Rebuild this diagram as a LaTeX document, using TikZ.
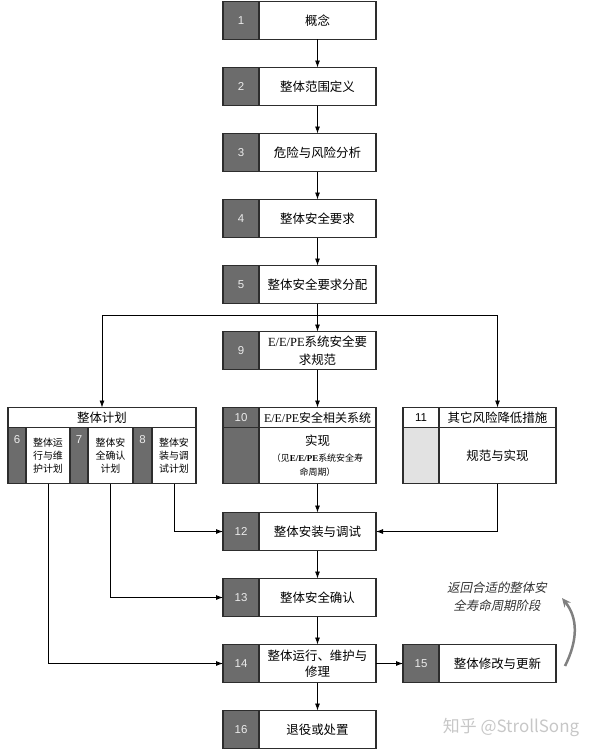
\documentclass[tikz,border=0pt]{standalone}
\usepackage{fontspec}
\setmainfont{Liberation Serif}
\newfontfamily\cjk{Noto Sans CJK SC}
\newfontfamily\cjkslant[FakeSlant=0.2]{Noto Sans CJK SC}
\newfontfamily\numfont{Liberation Sans}
\usetikzlibrary{positioning, arrows.meta}
\definecolor{numgray}{RGB}{108,108,108}
\definecolor{celllight}{RGB}{226,226,226}
\definecolor{boxline}{RGB}{45,45,45}

\begin{document}
\begin{tikzpicture}[
    x=1bp, y=-1bp,
    font=\cjk\fontsize{12.5}{16}\selectfont,
    every node/.style={align=center, outer sep=0pt},
    num/.style={draw=boxline, line width=1.2bp, fill=numgray, text=white!92!black,
                minimum width=36bp, minimum height=38bp, inner sep=0pt,
                font=\numfont\fontsize{11.5}{13}\selectfont},
    stage/.style={draw=boxline, line width=1.2bp, fill=white,
                  minimum width=117bp, minimum height=38bp, inner sep=1bp},
    plancell/.style={draw=boxline, line width=1.2bp, fill=white, minimum height=56bp,
                     inner sep=0pt, font=\cjk\fontsize{10}{13}\selectfont},
    plannum/.style={num, minimum width=18bp, minimum height=0pt,
                    text height=16bp, text depth=40bp},
    link/.style={draw, line width=0.8bp, -{Latex[length=7bp, width=5bp]}},
  ]
  \useasboundingbox (0,0) rectangle (600,754);

  % main column
  \node[num] (n1) at (241,20.5) {1};
  \node[stage, right=0pt of n1] (s1) {概念};
  \node[num, below=28bp of n1] (n2) {2};
  \node[stage, right=0pt of n2] (s2) {整体范围定义};
  \node[num, below=28bp of n2] (n3) {3};
  \node[stage, right=0pt of n3] (s3) {危险与风险分析};
  \node[num, below=28bp of n3] (n4) {4};
  \node[stage, right=0pt of n4] (s4) {整体安全要求};
  \node[num, below=28bp of n4] (n5) {5};
  \node[stage, right=0pt of n5] (s5) {整体安全要求分配};
  \node[num, below=28bp of n5] (n9) {9};
  \node[stage, right=0pt of n9] (s9) {{\rmfamily E/E/PE}系统安全要\\[2bp]求规范};

  % realisation row
  \node[num, minimum height=20bp, below=38bp of n9] (n10) {10};
  \node[stage, minimum height=20bp, right=0pt of n10] (s10)
    {{\fontsize{12}{14}\selectfont{\rmfamily E/E/PE}安全相关系统}};
  \node[num, minimum height=56bp, below=0pt of n10] (n10b) {};
  \node[stage, minimum height=56bp, right=0pt of n10b] (s10b)
    {实现\\{\fontsize{9}{11}\selectfont （见{\rmfamily\bfseries E/E/PE}系统安全寿}\\[-2bp]
     {\fontsize{9}{11}\selectfont 命周期）}};

  \node[num, fill=white, text=black, minimum height=20bp, right=27bp of s10] (n11) {11};
  \node[stage, minimum height=20bp, right=0pt of n11] (s11) {其它风险降低措施};
  \node[num, fill=celllight, minimum height=56bp, below=0pt of n11] (n11b) {};
  \node[stage, minimum height=56bp, right=0pt of n11b] (s11b) {规范与实现};

  % planning block
  \node[stage, minimum width=188bp, minimum height=20bp, left=27bp of n10] (plan) {整体计划};
  \node[plannum, anchor=north west] (c6n) at (plan.south west) {6};
  \node[plancell, minimum width=44bp, right=0pt of c6n] (c6) {整体运\\行与维\\护计划};
  \node[plannum, right=0pt of c6] (c7n) {7};
  \node[plancell, minimum width=45bp, right=0pt of c7n] (c7) {整体安\\全确认\\计划};
  \node[plannum, minimum width=19bp, right=0pt of c7] (c8n) {8};
  \node[plancell, minimum width=44bp, right=0pt of c8n] (c8) {整体安\\装与调\\试计划};

  % lower column
  \node[num, below=29bp of n10b] (n12) {12};
  \node[stage, right=0pt of n12] (s12) {整体安装与调试};
  \node[num, below=28bp of n12] (n13) {13};
  \node[stage, right=0pt of n13] (s13) {整体安全确认};
  \node[num, below=28bp of n13] (n14) {14};
  \node[stage, right=0pt of n14] (s14) {整体运行、维护与\\修理};
  \node[num, right=27bp of s14] (n15) {15};
  \node[stage, right=0pt of n15] (s15) {整体修改与更新};
  \node[num, below=28bp of n14] (n16) {16};
  \node[stage, right=0pt of n16] (s16) {退役或处置};

  % connectors
  \foreach \a/\b in {s1/s2, s2/s3, s3/s4, s4/s5, s5/s9, s9/s10,
                     s10b/s12, s12/s13, s13/s14, s14/s16, s14/n15}
    \draw[link] (\a) -- (\b);
  \coordinate[below=12bp of s5.south] (fork);
  \draw[link] (fork) -| (plan.north);
  \draw[link] (fork) -| (s11.north);
  \draw[link] (s11b.south) |- (s12.east);
  \draw[link] (c8.south) |- (n12.west);
  \draw[link] (c7.south) |- (n13.west);
  \draw[link] (c6.south) |- (n14.west);

  % return arrow
  \coordinate (backfrom) at (565,666);
  \coordinate (backto) at (562,598);
  \draw[black!50, line width=2.5bp, -{Stealth[length=9bp, width=8bp]}]
    (backfrom) .. controls (578,640) and (578,618) .. (backto);
  \node[font=\cjkslant\fontsize{12.5}{18}\selectfont, text=black!80] (backlbl)
    at (497,597) {返回合适的整体安\\全寿命周期阶段};

  \node[text=black!22, font=\cjk\fontsize{17}{20}\selectfont] (zhihu)
    at (511,727) {知乎 @StrollSong};
\end{tikzpicture}
\end{document}
